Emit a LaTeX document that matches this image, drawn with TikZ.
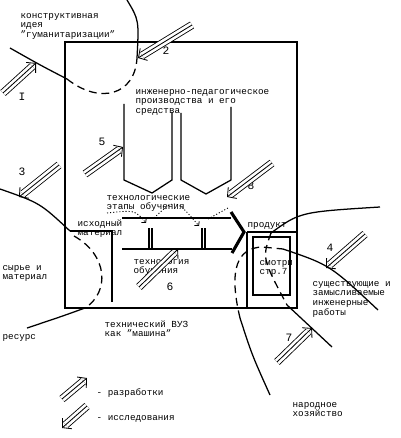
\documentclass[tikz,border=0pt]{standalone}
\usepackage{fontspec}
\setmainfont{Liberation Mono}
\usetikzlibrary{arrows.meta}

\begin{document}
\begin{tikzpicture}[x=0.025cm, y=-0.025cm, line width=0.9pt,
    txt/.style={inner sep=0pt, anchor=base west, align=left, font=\fontsize{6.6}{7}\selectfont},
    num/.style={inner sep=0pt, font=\fontsize{8}{8}\selectfont},
    flowout/.style={double, double distance=4.4pt, line width=0.6pt, shorten >=3.5pt},
    flowin/.style={line width=0.6pt, -{Straight Barb[length=4.5pt, width=10pt]}},
    brk/.style={dash pattern=on 5.5pt off 3.5pt},
    dots/.style={line width=0.6pt, dash pattern=on 0.8pt off 1.4pt, -{Straight Barb[length=2pt, width=4.5pt]}}]
        \useasboundingbox (0,0) rectangle (400,438);

        \node[txt] (t1) at (20,37.8) {конструктивная\\идея\\"гуманитаризации"};
        \node[txt] (t2) at (135,113.8) {инженерно-педагогическое\\производства и его\\средства};
        \node[txt] (t3) at (106,209.9) {технологические\\этапы обучения};
        \node[txt] (t4) at (77,235.9) {исходный\\материал};
        \node[txt] (t5) at (133,273.9) {технология\\обучения};
        \node[txt] (t6) at (247,228) {продукт};
        \node[txt] (t7) at (259,274.9) {смотри\\стр.7};
        \node[txt] (t8) at (2,279.9) {сырье и\\материал};
        \node[txt] (t9) at (2,339) {ресурс};
        \node[txt] (t10) at (104,336.9) {технический ВУЗ\\как "машина"};
        \node[txt] (t11) at (312,315.6) {существующие и\\замысливаемые\\инженерные\\работы};
        \node[txt] (t12) at (292,416.9) {народное\\хозяйство};
        \node[txt] (t13) at (96,395) {- разработки};
        \node[txt] (t14) at (96,420) {- исследования};

        \node[num] (n1) at (22,97) {I};
        \node[num] (n2) at (166,51) {2};
        \node[num] (n3) at (22,172) {3};
        \node[num] (n4) at (330,248) {4};
        \node[num] (n5) at (102,142) {5};
        \node[num] (n6) at (170,287) {6};
        \node[num] (n7) at (289,338) {7};
        \node[num] (n8) at (251,186) {8};

        \coordinate (s1) at (3,93);    \coordinate (e1) at (36,63);
        \coordinate (s2) at (192,25);  \coordinate (e2) at (138,58);
        \coordinate (s3) at (59,165);  \coordinate (e3) at (19,197);
        \coordinate (s4) at (365,234); \coordinate (e4) at (326,268);
        \coordinate (s5) at (85,174);  \coordinate (e5) at (123,147);
        \coordinate (s6) at (139,287); \coordinate (e6) at (178,249);
        \coordinate (s7) at (277,362); \coordinate (e7) at (312,328);
        \coordinate (s8) at (272,163); \coordinate (e8) at (227,197);
        \coordinate (s9) at (62,399);  \coordinate (e9) at (87,378);
        \coordinate (s10) at (87,406); \coordinate (e10) at (62,428);

        \draw[] (65,42) rectangle (297,308);
        \draw[] (70,231) -- (112,231) -- (112,302);
        \draw[] (0,189) .. controls (40,203) .. (70,231);
        \draw[brk] (74,236) .. controls (108,255) and (110,292) .. (85,308);
        \draw[] (85,308) .. controls (60,317) .. (27,328);

        \draw[] (10,48) .. controls (40,65) .. (67,79);
        \draw[brk] (67,79) .. controls (100,105) and (135,95) .. (137,58);
        \draw[] (137,58) .. controls (139,20) .. (127,0);

        \draw[] (124,104) -- (124,180) -- (152,193) -- (172,180) -- (172,112);
        \draw[] (181,113) -- (181,180) -- (206,194) -- (231,180) -- (231,107);

        \draw[] (122,218) -- (231,218);
        \draw[] (122,249) -- (232,249);
        \draw[] (149,228) -- (149,249);
        \draw[] (152,228) -- (152,249);
        \draw[] (202,228) -- (202,249);
        \draw[] (205,228) -- (205,249);
        \draw[line width=2.2pt] (231,212) -- (244,232) -- (232,253);
        \draw[dots] (107,213) .. controls (135,210) .. (146,223);
        \draw[dots] (154,218) .. controls (175,198) .. (199,226);
        \draw[dots, -] (208,219) -- (228,208);

        \draw[] (247,232) -- (297,232);
        \draw[] (247,232) -- (247,308);
        \draw[] (253,237) rectangle (290,295);

        \draw[] (270,395) .. controls (252,355) .. (240,318);
        \draw[brk] (240,318) .. controls (228,268) and (238,248) .. (262,247) -- (283,249);
        \draw[] (283,249) .. controls (330,265) .. (378,310);
        \draw[] (380,207) .. controls (300,212) .. (271,233);
        \draw[brk] (271,233) .. controls (262,258) .. (287,305);
        \draw[] (287,305) -- (332,347);

        \draw[flowout] (s1) -- (e1);   \draw[flowin] (s1) -- (e1);
        \draw[flowout] (s2) -- (e2);   \draw[flowin] (s2) -- (e2);
        \draw[flowout] (s3) -- (e3);   \draw[flowin] (s3) -- (e3);
        \draw[flowout] (s4) -- (e4);   \draw[flowin] (s4) -- (e4);
        \draw[flowout] (s5) -- (e5);   \draw[flowin] (s5) -- (e5);
        \draw[flowout] (s6) -- (e6);   \draw[flowin] (s6) -- (e6);
        \draw[flowout] (s7) -- (e7);   \draw[flowin] (s7) -- (e7);
        \draw[flowout] (s8) -- (e8);   \draw[flowin] (s8) -- (e8);
        \draw[flowout] (s9) -- (e9);   \draw[flowin] (s9) -- (e9);
        \draw[flowout] (s10) -- (e10); \draw[flowin] (s10) -- (e10);
    \end{tikzpicture}
\end{document}
